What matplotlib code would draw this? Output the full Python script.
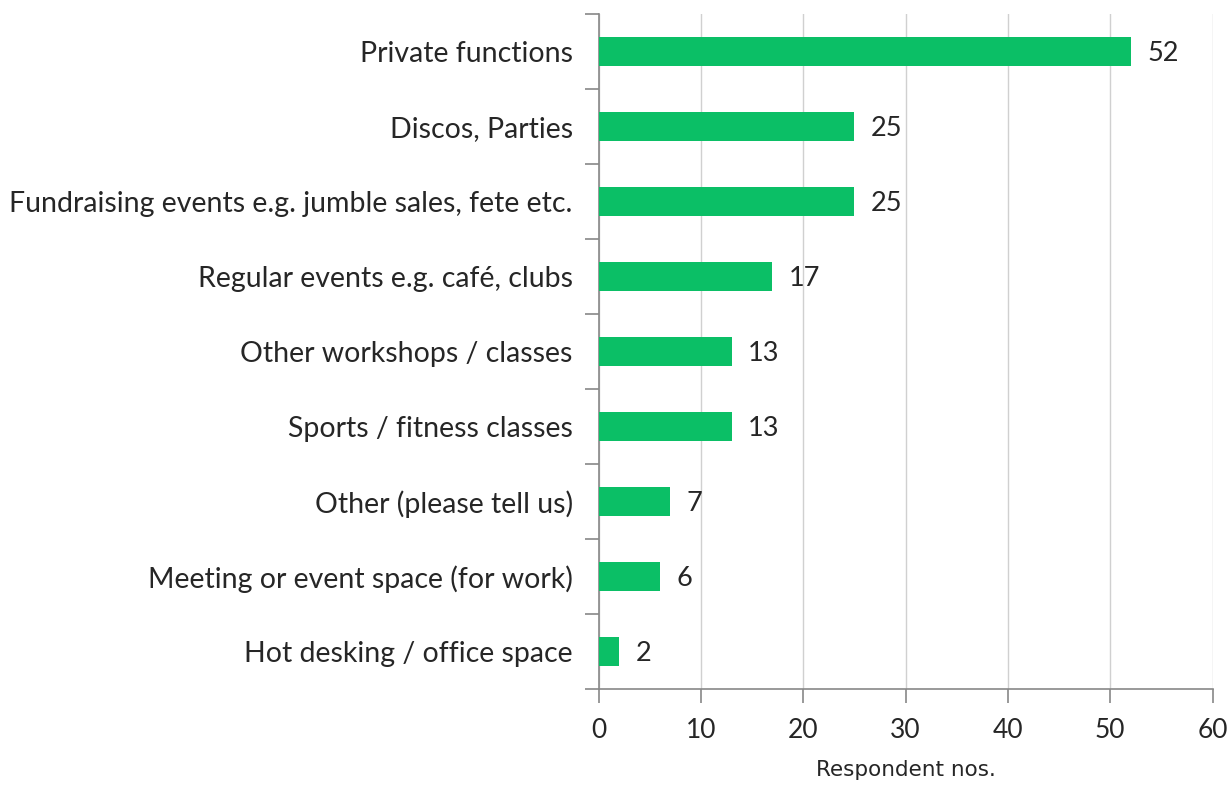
import matplotlib
matplotlib.use("Agg")
import matplotlib.pyplot as plt

categories = [
    "Private functions",
    "Discos, Parties",
    "Fundraising events e.g. jumble sales, fete etc.",
    "Regular events e.g. café, clubs",
    "Other workshops / classes",
    "Sports / fitness classes",
    "Other (please tell us)",
    "Meeting or event space (for work)",
    "Hot desking / office space",
]
values = [52, 25, 25, 17, 13, 13, 7, 6, 2]
x_ticks = [0, 10, 20, 30, 40, 50, 60]

plt.rcParams['font.family'] = ['Lato', 'DejaVu Sans']

fig = plt.figure(figsize=(12.29, 7.85), dpi=100)
ax = fig.add_axes([598.5/1229, 1 - 689/785, (1212.5-598.5)/1229, (689-14)/785])

n = len(categories)
ypos = list(range(n))
ax.barh(ypos, values, height=0.38, color='#0BBF66', zorder=3)
ax.set_ylim(n - 0.5, -0.5)
ax.set_xlim(0, 60)

for y, v in zip(ypos, values):
    ax.text(v + 1.6, y + 0.03, str(v), va='center', ha='left', fontsize=19.5, color='#262626')

ax.set_yticks([i - 0.5 for i in range(n + 1)], minor=False)
ax.set_yticklabels([])
ax.set_yticks(ypos, minor=True)
ax.set_yticklabels(categories, minor=True, fontsize=20.5, color='#262626')
ax.tick_params(axis='y', which='minor', length=0, pad=18.5)
ax.tick_params(axis='y', which='major', length=10, color='#888888', width=1.2, direction='out')

ax.set_xticks(x_ticks)
ax.set_xticklabels([str(t) for t in x_ticks], fontsize=19, color='#262626')
ax.tick_params(axis='x', length=10, color='#888888', width=1.2, direction='out', pad=11)

ax.grid(axis='x', color='#D0D0D0', linewidth=1, zorder=0)
for s in ['top', 'right']:
    ax.spines[s].set_visible(False)
for s in ['left', 'bottom']:
    ax.spines[s].set_color('#888888')
    ax.spines[s].set_linewidth(1.2)

ax.set_xlabel("Respondent nos.", fontsize=15.5, color='#262626', labelpad=12,
              family=['DejaVu Sans'])

fig.savefig("out.png", dpi=100)
